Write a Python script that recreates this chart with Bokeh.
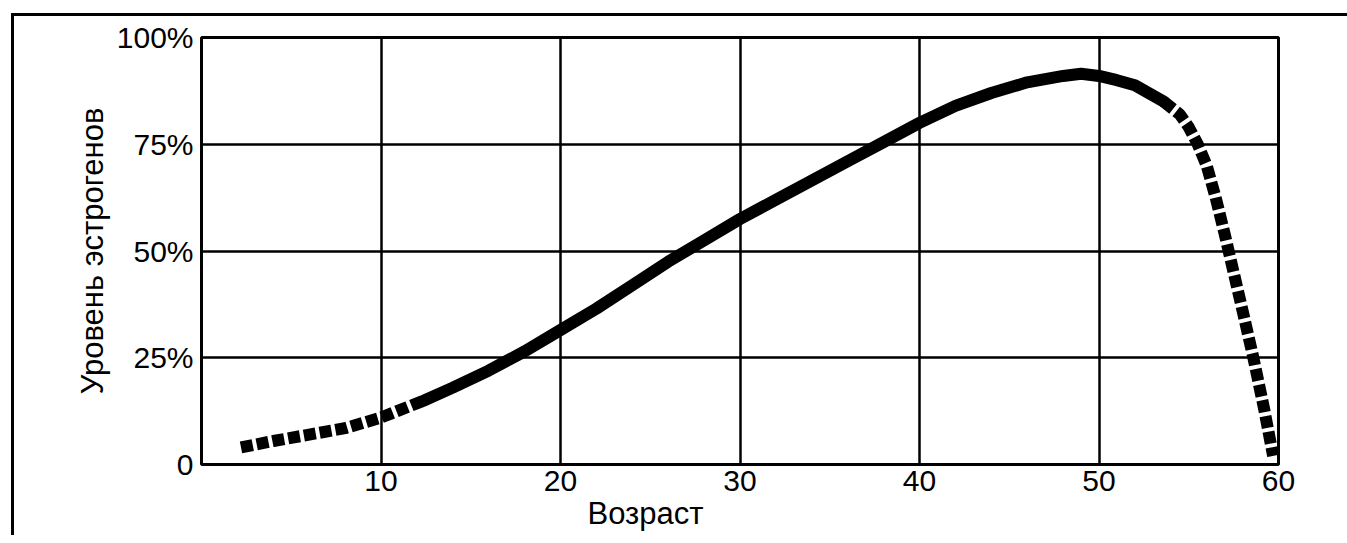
from bokeh.plotting import figure
from bokeh.models import FixedTicker, Range1d, Title
from bokeh.embed import file_html
from bokeh.resources import INLINE

# Data (age in years, estrogen level in %)
ages_early = [2.2, 4, 6, 8, 10, 12.4]
levels_early = [4, 5.5, 7, 8.5, 11, 15]

ages_mid = [12.4, 14, 16, 18, 20, 22, 24, 26, 28, 30, 32, 34, 36, 38, 40,
            42, 44, 46, 48, 49, 50, 51, 52, 53.6]
levels_mid = [15, 18, 22, 26.5, 31.5, 36.5, 42, 47.5, 52.5, 57.5, 62, 66.5,
              71, 75.5, 80, 84, 87, 89.5, 91, 91.5, 91, 90, 88.8, 85]

ages_late = [53.6, 54.5, 55, 55.5, 56, 56.5, 57, 57.5, 58, 58.6, 59.2, 59.7]
levels_late = [85, 82, 79, 75, 70, 62.5, 54, 45, 36, 25, 13, 2]

x_ticks = [10, 20, 30, 40, 50, 60]
y_ticks = [0, 25, 50, 75, 100]
y_tick_labels = ["0", "25%", "50%", "75%", "100%"]

FONT = "Liberation Sans"

p = figure(width=1347, height=535, output_backend="svg", toolbar_location=None,
           x_range=Range1d(0, 60), y_range=Range1d(0, 100),
           min_border_left=201, min_border_right=69, min_border_top=37,
           min_border_bottom=71)
p.background_fill_color = "white"
p.border_fill_color = None
p.styles = {
    "background": ("linear-gradient(#000, #000) 11px 13px / 3px 100% no-repeat, "
                   "linear-gradient(#000, #000) 11px 13px / 100% 3px no-repeat, "
                   "#ffffff"),
}
p.outline_line_color = "black"
p.outline_line_width = 3

# grid
p.xaxis.ticker = FixedTicker(ticks=x_ticks)
p.yaxis.ticker = FixedTicker(ticks=y_ticks)
p.yaxis.major_label_overrides = {t: l for t, l in zip(y_ticks, y_tick_labels)}
for g in (p.xgrid, p.ygrid):
    g.grid_line_color = "black"
    g.grid_line_width = 2.5
    g.grid_line_alpha = 1

for ax in (p.xaxis, p.yaxis):
    ax.axis_line_color = None
    ax.major_tick_line_color = None
    ax.minor_tick_line_color = None
    ax.major_label_text_font = FONT
    ax.major_label_text_font_size = "30px"
    ax.major_label_text_color = "black"
    ax.axis_label_text_font = FONT
    ax.axis_label_text_font_style = "normal"
    ax.axis_label_text_color = "black"
    ax.axis_label_text_font_size = "31px"

p.xaxis.major_label_standoff = 0
p.yaxis.major_label_standoff = 2
p.yaxis.axis_label = "Уровень эстрогенов"
p.yaxis.axis_label_standoff = 4

# x-axis title placed like the reference (left of centre)
p.add_layout(Title(text="Возраст", align="left", offset=386, standoff=0,
                   text_font=FONT, text_font_size="31px",
                   text_font_style="normal", text_color="black"), "below")

# curve
p.line(ages_early, levels_early, line_color="black", line_width=12,
       line_dash="12 4", line_cap="butt")
p.line(ages_mid, levels_mid, line_color="black", line_width=12,
       line_cap="round", line_join="round")
p.line(ages_late, levels_late, line_color="black", line_width=12,
       line_dash="12 4", line_cap="butt")

open("out.html", "w").write(file_html(p, INLINE))
